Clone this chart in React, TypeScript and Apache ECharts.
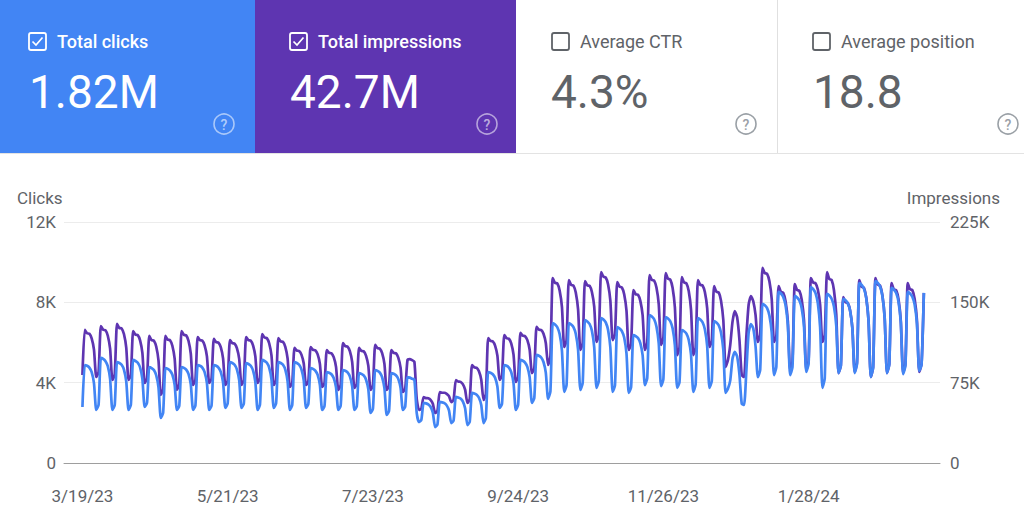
import { useEffect, useRef } from "react";
import * as echarts from "echarts";

// ---- Data ----
// Daily clicks, 3/19/23 (Sunday) .. 3/18/24, one week (Sun..Sat) per row
const clicks: number[] = [
  2790, 4880, 4840, 4750, 4520, 3980, 2640,
  2900, 5230, 5180, 5070, 4820, 4190, 2640,
  2880, 5030, 4980, 4890, 4650, 4070, 2640,
  2890, 5130, 5080, 4990, 4760, 4190, 2790,
  2990, 4780, 4730, 4630, 4370, 3760, 2240,
  2490, 4730, 4690, 4600, 4400, 3890, 2640,
  2850, 4780, 4740, 4650, 4440, 3920, 2640,
  2860, 4880, 4840, 4750, 4520, 3980, 2640,
  2860, 4880, 4840, 4750, 4540, 4020, 2740,
  2970, 5030, 4980, 4890, 4660, 4110, 2740,
  2960, 4980, 4930, 4840, 4610, 4040, 2640,
  2890, 5130, 5080, 4990, 4750, 4170, 2740,
  2970, 5030, 4980, 4890, 4650, 4070, 2640,
  2880, 5030, 4980, 4890, 4660, 4110, 2740,
  2940, 4730, 4690, 4600, 4400, 3890, 2640,
  2830, 4530, 4490, 4420, 4230, 3770, 2640,
  2840, 4630, 4590, 4510, 4310, 3830, 2640,
  2820, 4480, 4440, 4360, 4160, 3680, 2490,
  2700, 4630, 4590, 4500, 4270, 3730, 2390,
  2600, 4480, 4440, 4370, 4190, 3740, 2640,
  2800, 4280, 4250, 4200, 4150, 2500, 2040,
  2140, 2990, 2970, 2920, 2800, 2510, 1790,
  1920, 3040, 3020, 2980, 2870, 2620, 1990,
  2120, 3290, 3260, 3210, 3070, 2730, 1890,
  2050, 3490, 3460, 3400, 3250, 2890, 1990,
  2240, 4530, 4490, 4420, 4240, 3810, 2740,
  2950, 4880, 4840, 4750, 4520, 3980, 2640,
  2890, 5130, 5090, 5000, 4790, 4270, 2990,
  3230, 5380, 5340, 5250, 5030, 4500, 3190,
  3570, 6970, 6900, 6760, 6420, 5600, 3540,
  3880, 6970, 6900, 6770, 6440, 5640, 3640,
  3990, 7120, 7050, 6920, 6580, 5770, 3740,
  4090, 7220, 7150, 7000, 6630, 5750, 3540,
  3860, 6770, 6700, 6570, 6250, 5460, 3490,
  3780, 6370, 6320, 6220, 5970, 5370, 3880,
  4230, 7370, 7300, 7160, 6800, 5950, 3830,
  4170, 7270, 7200, 7060, 6710, 5860, 3740,
  4030, 6620, 6560, 6440, 6130, 5390, 3540,
  3910, 7220, 7150, 7010, 6660, 5830, 3740,
  4070, 7070, 7000, 6860, 6500, 5640, 3490,
  3700, 4100, 5200, 5530, 5300, 4400, 2950,
  2890, 4600, 6500, 6920, 6700, 5800, 4280,
  4640, 7920, 7850, 7710, 7350, 6500, 4380,
  4790, 8520, 8440, 8270, 7860, 6860, 4380,
  4770, 8320, 8240, 8090, 7710, 6800, 4530,
  4950, 8760, 8660, 8460, 7960, 6750, 3740,
  4210, 8420, 8340, 8180, 7790, 6840, 4480,
  4850, 8170, 8100, 7950, 7580, 6690, 4480,
  4930, 8960, 8870, 8680, 8210, 7090, 4280,
  4760, 9060, 8970, 8790, 8330, 7230, 4480,
  4900, 8720, 8630, 8460, 8030, 7000, 4430,
  4840, 8520, 8440, 8280, 7890, 6940, 4580,
  4900, 8470,
];

// Daily impressions, same days
const impressions: number[] = [
  82200, 124200, 121100, 120700, 116300, 105800, 80300,
  85100, 127900, 124400, 123900, 118800, 106700, 77500,
  82700, 129800, 126100, 125600, 120400, 107800, 77500,
  82100, 123200, 119800, 119300, 114500, 102800, 74700,
  79100, 118600, 114700, 114200, 108700, 95500, 63500,
  69000, 118600, 115100, 114600, 109500, 97400, 68200,
  73700, 123200, 119700, 119200, 114100, 102000, 72800,
  77300, 117600, 114600, 114200, 109900, 99600, 74700,
  78800, 115800, 112800, 112400, 108100, 97700, 72800,
  77000, 114800, 111900, 111400, 107200, 97200, 72800,
  77300, 117600, 114600, 114200, 109900, 99600, 74700,
  79300, 120400, 117100, 116600, 111800, 100400, 72800,
  77200, 116700, 113500, 113000, 108500, 97500, 71000,
  74600, 107400, 105000, 104600, 101200, 92900, 72800,
  76400, 108300, 105700, 105300, 101600, 92600, 71000,
  74500, 105500, 102900, 102500, 98800, 89800, 68200,
  72600, 112000, 109100, 108600, 104400, 94400, 70000,
  73700, 107400, 104700, 104300, 100300, 90900, 68200,
  72400, 110200, 107300, 106800, 102600, 92600, 68200,
  71900, 105500, 102800, 102400, 98400, 89000, 66300,
  69300, 96200, 97000, 96000, 94500, 60000, 49500,
  50700, 61600, 60600, 60400, 58900, 55300, 46700,
  48700, 66300, 65600, 65600, 64600, 62400, 56900,
  59000, 77500, 76000, 75800, 73600, 68500, 56000,
  59600, 91500, 89200, 88900, 85600, 77800, 58800,
  64600, 116700, 114000, 113600, 109600, 100200, 77500,
  81700, 119500, 116400, 116000, 111600, 101100, 75600,
  80200, 121400, 118800, 118400, 114700, 105700, 84000,
  88300, 127000, 124500, 124200, 120600, 112100, 91500,
  99600, 172700, 168200, 167600, 161100, 145700, 108300,
  114500, 170800, 166200, 165600, 159100, 143400, 105500,
  111900, 169900, 165900, 165400, 159700, 146000, 113000,
  119500, 178300, 173900, 173200, 166900, 151600, 114800,
  120200, 169000, 164600, 163900, 157600, 142300, 105500,
  111100, 161500, 157600, 157000, 151400, 138000, 105500,
  112500, 175500, 170900, 170300, 163800, 148100, 110200,
  116900, 177400, 172000, 171300, 163600, 145200, 100800,
  108100, 173600, 168500, 167800, 160500, 143000, 100800,
  107800, 170800, 166400, 165800, 159600, 144600, 108300,
  114000, 165200, 159900, 159200, 151600, 133500, 89600,
  96000, 110000, 132000, 141900, 136000, 115000, 82000,
  80300, 118000, 148000, 155900, 151000, 138000, 113000,
  119900, 182100, 177300, 176600, 169700, 153100, 113000,
  118200, 165200, 159700, 158900, 151100, 132300, 86800,
  94800, 167100, 161500, 160700, 152700, 133400, 86800,
  95400, 172700, 168500, 167900, 162000, 147600, 113000,
  119500, 178300, 171700, 170800, 161300, 138700, 84000,
  91100, 155000, 150100, 149400, 142400, 125600, 85000,
  93600, 170800, 164500, 163600, 154500, 132800, 80300,
  89500, 172700, 166500, 165600, 156700, 135500, 84000,
  92400, 168000, 162100, 161300, 152900, 132700, 84000,
  92400, 168000, 162200, 161400, 153100, 133100, 85000,
  92400, 158700,
];

// Axis range in days: the axis runs from 3/11/23 to 3/25/24 (data covers 3/19/23 .. 3/18/24)
const axisStartUTC = Date.UTC(2023, 2, 11);
const axisDays = 381;
const daysBeforeData = 8;

const xTickLabels = ["3/19/23", "5/21/23", "7/23/23", "9/24/23", "11/26/23", "1/28/24"];
const clicksTicks = [0, 4000, 8000, 12000];
const impressionsTicks = [0, 75000, 150000, 225000];

const metricNames = ["Total clicks", "Total impressions", "Average CTR", "Average position"];
const metricValues = ["1.82M", "42.7M", "4.3%", "18.8"];
const metricChecked = [true, true, false, false];

const FONT = 'Roboto, "Noto Sans", "DejaVu Sans", sans-serif';
const BLUE = "#4285f4";
const PURPLE = "#5e35b1";
const GRAY = "#5f6368";

function buildCategories(): string[] {
  const out: string[] = [];
  for (let i = 0; i < axisDays; i++) {
    const d = new Date(axisStartUTC + i * 86400000);
    out.push(`${d.getUTCMonth() + 1}/${d.getUTCDate()}/${String(d.getUTCFullYear()).slice(2)}`);
  }
  return out;
}

function pad(values: number[]): (number | null)[] {
  const out: (number | null)[] = [];
  for (let i = 0; i < daysBeforeData; i++) out.push(null);
  for (const v of values) out.push(v);
  while (out.length < axisDays) out.push(null);
  return out;
}

function kFmt(v: number): string {
  return v === 0 ? "0" : `${v / 1000}K`;
}

function buildCards(): any[] {
  const cardX = [0, 255, 516, 777];
  const cardW = [255, 261, 261, 247];
  const fills = [BLUE, PURPLE, "#ffffff", "#ffffff"];
  const boxX = [29, 290, 552, 813];
  const labelX = [57, 318, 580, 841];
  const numX = [29, 290, 551, 813];
  const helpX = [224, 487, 746, 1008];
  const els: any[] = [];
  for (let i = 0; i < 4; i++) {
    const on = metricChecked[i];
    const fg = on ? "#ffffff" : GRAY;
    els.push({
      type: "rect",
      shape: { x: cardX[i], y: 0, width: cardW[i], height: 153 },
      style: { fill: fills[i] },
      z: 1,
    });
    els.push({
      type: "rect",
      shape: { x: boxX[i], y: 33, width: 17, height: 17, r: 2 },
      style: { fill: "none", stroke: fg, lineWidth: 1.8 },
      z: 2,
    });
    if (on) {
      els.push({
        type: "polyline",
        shape: {
          points: [
            [boxX[i] + 3.5, 41.5],
            [boxX[i] + 7, 45],
            [boxX[i] + 13.5, 37.5],
          ],
        },
        style: { fill: "none", stroke: fg, lineWidth: 1.7 },
        z: 2,
      });
    }
    els.push({
      type: "text",
      x: labelX[i],
      y: 41,
      style: {
        text: metricNames[i],
        fill: fg,
        font: `${on ? 500 : 400} 18px ${FONT}`,
        textAlign: "left",
        textVerticalAlign: "middle",
      },
      z: 2,
    });
    els.push({
      type: "text",
      x: numX[i],
      y: 92,
      style: {
        text: metricValues[i],
        fill: fg,
        font: `400 46px ${FONT}`,
        textAlign: "left",
        textVerticalAlign: "middle",
      },
      z: 2,
    });
    els.push({
      type: "circle",
      shape: { cx: helpX[i], cy: 124, r: 10 },
      style: {
        fill: "none",
        stroke: on ? "rgba(255,255,255,0.55)" : "#9aa0a6",
        lineWidth: 1.6,
      },
      z: 2,
    });
    els.push({
      type: "text",
      x: helpX[i],
      y: 124.5,
      style: {
        text: "?",
        fill: on ? "rgba(255,255,255,0.6)" : "#9aa0a6",
        font: `500 14px ${FONT}`,
        textAlign: "center",
        textVerticalAlign: "middle",
      },
      z: 2,
    });
  }
  els.push({
    type: "line",
    shape: { x1: 777.5, y1: 0, x2: 777.5, y2: 153 },
    style: { stroke: "#e0e0e0", lineWidth: 1 },
    z: 3,
  });
  els.push({
    type: "line",
    shape: { x1: 0, y1: 153.5, x2: 1024, y2: 153.5 },
    style: { stroke: "#e3e3e3", lineWidth: 1.2 },
    z: 3,
  });
  els.push({
    type: "text",
    x: 17,
    y: 198,
    style: { text: "Clicks", fill: GRAY, font: `400 17px ${FONT}`, textAlign: "left", textVerticalAlign: "middle" },
  });
  els.push({
    type: "text",
    x: 1000,
    y: 198,
    style: { text: "Impressions", fill: GRAY, font: `400 17px ${FONT}`, textAlign: "right", textVerticalAlign: "middle" },
  });
  return els;
}

export default function App() {
  const ref = useRef<HTMLDivElement | null>(null);

  useEffect(() => {
    if (!ref.current) return;
    const chart = echarts.init(ref.current, null, { renderer: "svg" });
    const categories = buildCategories();
    chart.setOption({
      animation: false,
      backgroundColor: "#ffffff",
      textStyle: { fontFamily: FONT },
      grid: { left: 64, right: 84, top: 222, bottom: 58, containLabel: false },
      graphic: buildCards(),
      xAxis: {
        type: "category",
        data: categories,
        boundaryGap: false,
        axisLine: { show: true, lineStyle: { color: "#9e9e9e", width: 1 } },
        axisTick: { show: false },
        splitLine: { show: false },
        axisLabel: {
          interval: (_i: number, v: string) => xTickLabels.includes(v),
          color: GRAY,
          fontSize: 17,
          fontFamily: FONT,
          margin: 24,
          hideOverlap: false,
        },
      },
      yAxis: [
        {
          type: "value",
          min: clicksTicks[0],
          max: clicksTicks[clicksTicks.length - 1],
          interval: clicksTicks[1] - clicksTicks[0],
          axisLine: { show: false },
          axisTick: { show: false },
          splitLine: { lineStyle: { color: "#ececec", width: 1 } },
          axisLabel: { color: GRAY, fontSize: 17, fontFamily: FONT, margin: 8, formatter: kFmt },
        },
        {
          type: "value",
          min: impressionsTicks[0],
          max: impressionsTicks[impressionsTicks.length - 1],
          interval: impressionsTicks[1] - impressionsTicks[0],
          axisLine: { show: false },
          axisTick: { show: false },
          splitLine: { show: false },
          axisLabel: { color: GRAY, fontSize: 17, fontFamily: FONT, margin: 10, formatter: kFmt },
        },
      ],
      series: [
        {
          name: "Impressions",
          type: "line",
          yAxisIndex: 1,
          data: pad(impressions),
          showSymbol: false,
          smooth: 0.2,
          lineStyle: { color: PURPLE, width: 2.7 },
          itemStyle: { color: PURPLE },
          z: 2,
        },
        {
          name: "Clicks",
          type: "line",
          yAxisIndex: 0,
          data: pad(clicks),
          showSymbol: false,
          smooth: 0.2,
          lineStyle: { color: BLUE, width: 2.7 },
          itemStyle: { color: BLUE },
          z: 3,
        },
      ],
    });
    return () => chart.dispose();
  }, []);

  return (
    <div
      ref={ref}
      style={{ position: "fixed", left: 0, top: 0, width: 1024, height: 521, background: "#ffffff" }}
    />
  );
}
